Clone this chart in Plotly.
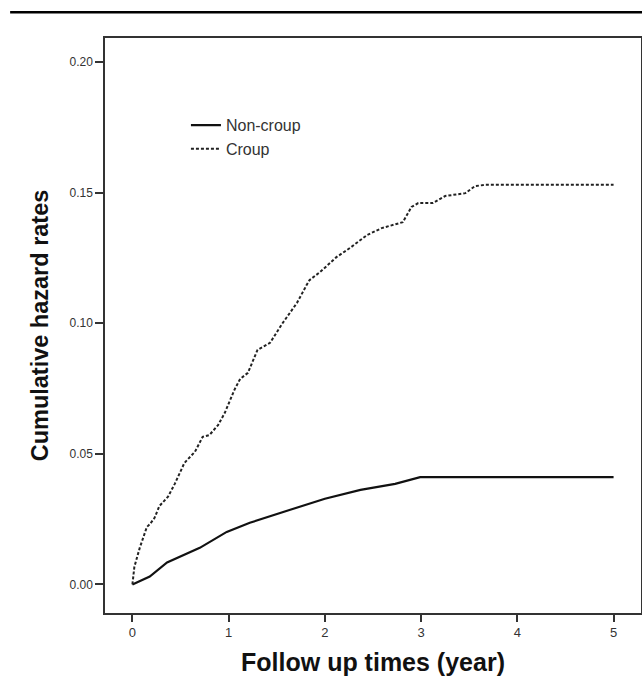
import plotly.graph_objects as go

# Data (years, cumulative hazard)
noncroup_t = [0, 0.18, 0.36, 0.70, 0.98, 1.22, 1.64, 2.00, 2.37, 2.73, 2.99, 5.0]
noncroup_h = [0, 0.0030, 0.0084, 0.0140, 0.0201, 0.0236, 0.0286, 0.0328, 0.0362, 0.0385, 0.0411, 0.0411]

croup_t = [0, 0.02, 0.076, 0.15, 0.18, 0.23, 0.28, 0.37, 0.44, 0.54, 0.65, 0.73, 0.80, 0.89,
           0.96, 1.06, 1.12, 1.20, 1.30, 1.43, 1.56, 1.71, 1.81, 1.84, 1.95, 2.12, 2.26, 2.44,
           2.59, 2.81, 2.90, 2.97, 3.12, 3.25, 3.46, 3.56, 3.67, 5.0]
croup_h = [0, 0.0067, 0.014, 0.022, 0.023, 0.0255, 0.030, 0.0336, 0.0385, 0.0465, 0.0508, 0.0565,
           0.0572, 0.061, 0.0657, 0.0745, 0.0787, 0.081, 0.0898, 0.0925, 0.100, 0.1078, 0.1146,
           0.1165, 0.1196, 0.1253, 0.1288, 0.1338, 0.1364, 0.1387, 0.1445, 0.146, 0.146, 0.1487,
           0.1498, 0.1525, 0.153, 0.153]

x_ticks = [0, 1, 2, 3, 4, 5]
y_ticks = [0.00, 0.05, 0.10, 0.15, 0.20]

fig = go.Figure()
fig.add_trace(go.Scatter(x=noncroup_t, y=noncroup_h, mode="lines", name="Non-croup",
                         line=dict(color="#111111", width=2.2, shape="linear")))
fig.add_trace(go.Scatter(x=croup_t, y=croup_h, mode="lines", name="Croup",
                         line=dict(color="#222222", width=2.0, dash="3px,2px")))

fam = "Arial, Liberation Sans, sans-serif"
ytick_font = dict(family=fam, size=12, color="#333333")
xtick_font = dict(family=fam, size=13, color="#333333")

fig.update_layout(
    template="none",
    width=642, height=676,
    margin=dict(l=105, r=1, t=38, b=63, pad=0),
    paper_bgcolor="white", plot_bgcolor="white",
    showlegend=True,
    legend=dict(x=0.151, y=0.878, xanchor="left", yanchor="top",
                bgcolor="rgba(0,0,0,0)", borderwidth=0,
                font=dict(family=fam, size=16, color="#333333"),
                tracegroupgap=0),
    shapes=[dict(type="line", xref="paper", yref="paper", x0=-0.177, x1=1.003,
                 y0=1.045, y1=1.045, line=dict(color="black", width=2.5))],
)
fig.update_xaxes(range=[-0.285, 5.285], tickvals=x_ticks, ticktext=[str(v) for v in x_ticks],
                 ticks="outside", ticklen=7, tickwidth=1.5, tickcolor="#333333",
                 showline=True, linecolor="#333333", linewidth=1.5, mirror=True,
                 showgrid=False, zeroline=False, tickfont=xtick_font, automargin=False,
                 title=dict(text="<b>Follow up times (year)</b>",
                            font=dict(family=fam, size=25, color="#111111"), standoff=14))
fig.update_yaxes(range=[-0.01094, 0.2092], tickvals=y_ticks,
                 ticktext=["%.2f" % v for v in y_ticks],
                 ticks="outside", ticklen=8, tickwidth=1.5, tickcolor="#333333",
                 showline=True, linecolor="#333333", linewidth=1.5, mirror=True,
                 showgrid=False, zeroline=False, tickfont=ytick_font, automargin=False,
                 title=dict(text="<b>Cumulative hazard rates</b>",
                            font=dict(family=fam, size=23.5, color="#111111"), standoff=14))

fig.write_html("out.html", config={"displayModeBar": False},
               post_script="document.body.style.margin='0';document.body.style.overflow='hidden';")
